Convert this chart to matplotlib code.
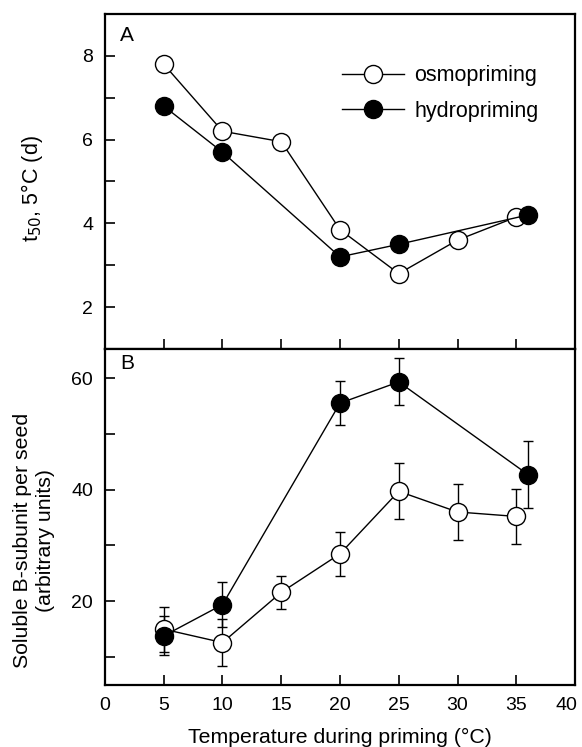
import matplotlib.pyplot as plt
from matplotlib.ticker import MultipleLocator
from matplotlib.transforms import ScaledTranslation

plt.rcParams['font.family'] = ['Liberation Sans', 'DejaVu Sans']
plt.rcParams['font.size'] = 14

# panel A: t50 at 5 C (days)
osmo_x_a = [5, 10, 15, 20, 25, 30, 35]
osmo_t50 = [7.8, 6.2, 5.95, 3.85, 2.8, 3.6, 4.15]
hydro_x_a = [5, 10, 20, 25, 36]
hydro_t50 = [6.8, 5.7, 3.2, 3.5, 4.2]

# panel B: soluble B-subunit per seed
osmo_x_b = [5, 10, 15, 20, 25, 30, 35]
osmo_b = [15.0, 12.6, 21.6, 28.5, 39.7, 36.0, 35.2]
osmo_b_err = [4.0, 4.2, 3.0, 4.0, 5.0, 5.0, 5.0]
hydro_x_b = [5, 10, 20, 25, 36]
hydro_b = [13.8, 19.4, 55.5, 59.3, 42.7]
hydro_b_err = [3.5, 4.0, 4.0, 4.2, 6.0]

fig = plt.figure(figsize=(5.82, 7.47), dpi=100)
axA = fig.add_axes([0.1804, 0.5328, 0.8076, 0.4485])
axB = fig.add_axes([0.1804, 0.0830, 0.8076, 0.4498])

mk = dict(marker='o', markersize=13, markeredgecolor='black', markeredgewidth=1.0,
          color='black', linewidth=1.0)

axA.plot(osmo_x_a, osmo_t50, markerfacecolor='white', label='osmopriming', **mk)
axA.plot(hydro_x_a, hydro_t50, markerfacecolor='black', label='hydropriming', **mk)

eb = dict(ecolor='black', elinewidth=1.0, capsize=3.5, capthick=1.0)
axB.errorbar(osmo_x_b, osmo_b, yerr=osmo_b_err, markerfacecolor='white', **mk, **eb)
axB.errorbar(hydro_x_b, hydro_b, yerr=hydro_b_err, markerfacecolor='black', **mk, **eb)

for ax in (axA, axB):
    ax.set_xlim(0, 40)
    ax.tick_params(direction='in', which='both', length=7, width=1.2, labelsize=14, pad=8.5)
    for s in ax.spines.values():
        s.set_linewidth(1.6)

axA.set_ylim(1, 9)
axA.set_yticks([2, 4, 6, 8])
axA.yaxis.set_minor_locator(MultipleLocator(1))
axA.set_xticks([5, 10, 15, 20, 25, 30, 35])
axA.tick_params(labelbottom=False)
axA.set_ylabel('t$_{50}$, 5°C (d)', fontsize=15.5, va='center')
axA.yaxis.set_label_coords(-0.155, 0.48)
axA.text(0.032, 0.965, 'A', transform=axA.transAxes, fontsize=15, va='top', ha='left')
axA.legend(loc='upper left', bbox_to_anchor=(0.504, 0.847), frameon=False, fontsize=15.5,
           borderaxespad=0, borderpad=0, handlelength=2.9, handletextpad=0.45,
           labelspacing=0.67)

axB.set_ylim(5, 65.2)
axB.set_yticks([20, 40, 60])
axB.yaxis.set_minor_locator(MultipleLocator(10))
axB.set_xticks([0, 5, 10, 15, 20, 25, 30, 35, 40])
axB.set_ylabel('Soluble B-subunit per seed\n(arbitrary units)', fontsize=15.3,
               va='center', linespacing=1.3)
axB.yaxis.set_label_coords(-0.151, 0.43)
axB.set_xlabel('Temperature during priming (°C)', fontsize=15.3, va='center')
axB.xaxis.set_label_coords(0.5, -0.155)
axB.text(0.032, 0.985, 'B', transform=axB.transAxes, fontsize=15, va='top', ha='left')

# nudge the last x tick label so it stays inside the figure, as in the original
last = axB.get_xticklabels()[-1]
last.set_transform(last.get_transform() + ScaledTranslation(-6 / 72, 0, fig.dpi_scale_trans))

fig.savefig('out.png', dpi=100)
